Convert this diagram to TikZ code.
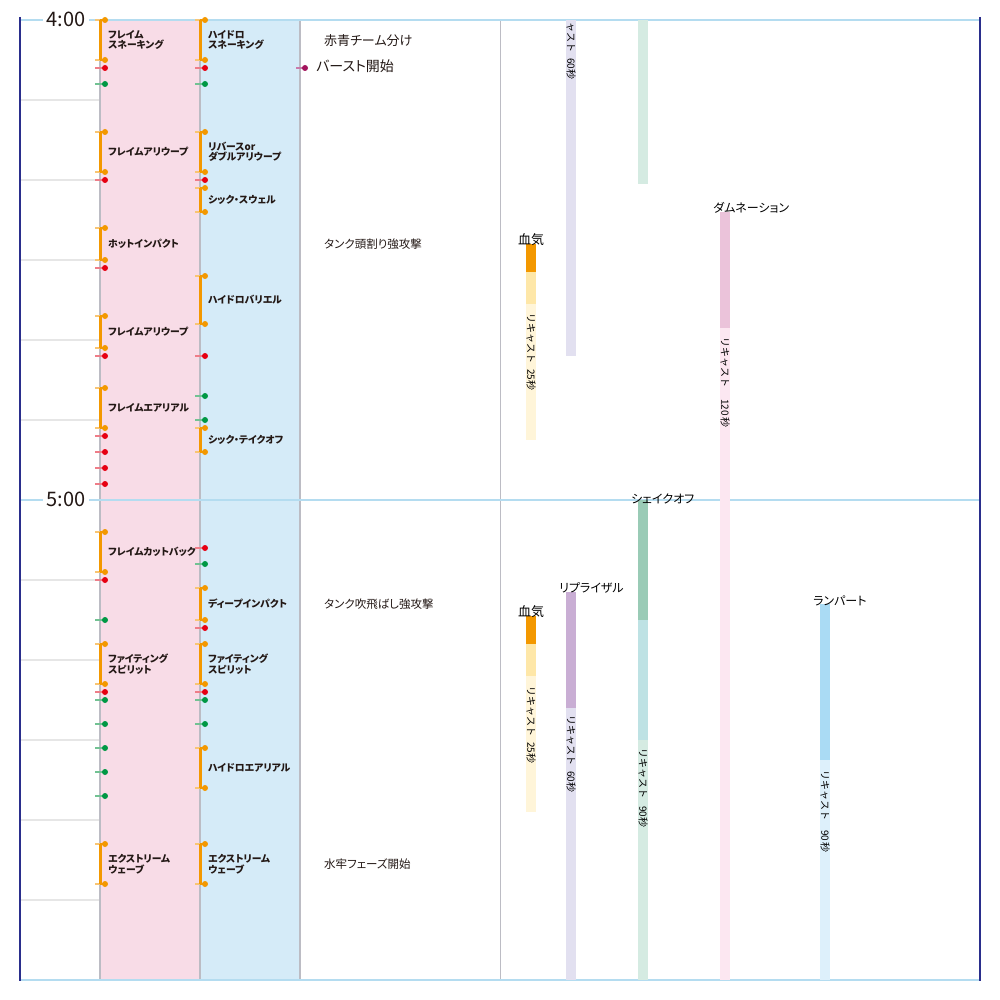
\documentclass[tikz,border=0pt]{standalone}
\usepackage{fontspec}
\usepackage{tikz}
\newfontfamily\jp[RawFeature=+palt]{Noto Sans CJK JP}
\newfontfamily\jpfull{Noto Sans CJK JP}
\definecolor{ink}{HTML}{231815}
\definecolor{navy}{HTML}{2A2E8C}
\definecolor{hourblue}{HTML}{B4DCF0}
\definecolor{gridgray}{HTML}{E6E6E6}
\definecolor{colgray}{HTML}{BCBCC4}
\definecolor{pinkcol}{HTML}{F8DCE7}
\definecolor{bluecol}{HTML}{D5EBF8}
\definecolor{skillorange}{HTML}{F39800}
\definecolor{tickorange}{HTML}{F8C574}
\definecolor{dotred}{HTML}{E60012}
\definecolor{tickred}{HTML}{EE7D88}
\definecolor{dotgreen}{HTML}{009844}
\definecolor{tickgreen}{HTML}{72C293}
\definecolor{dotpurple}{HTML}{A3145D}
\definecolor{tickpurple}{HTML}{C97AAA}
\definecolor{lav}{HTML}{E2E0F0}
\definecolor{pgreen}{HTML}{D5EBE2}
\definecolor{lorg}{HTML}{FEE7A8}
\definecolor{pyel}{HTML}{FFF5D9}
\definecolor{purp}{HTML}{C9AED4}
\definecolor{sgreen}{HTML}{9ACBB6}
\definecolor{teal}{HTML}{BEE2E4}
\definecolor{dpink}{HTML}{EBC3DA}
\definecolor{ppink}{HTML}{FCE7F1}
\definecolor{rblue}{HTML}{AADBF4}
\definecolor{pblue}{HTML}{DDF0FB}

\begin{document}
\begin{tikzpicture}[x=1pt, y=-1pt,
	gridline/.style={draw=gridgray, line width=2pt},
	colline/.style={draw=colgray, line width=2pt},
	hourline/.style={draw=hourblue, line width=2pt},
	edgeline/.style={draw=navy, line width=2.8pt},
	hourlabel/.style={fill=white, inner xsep=4pt, inner ysep=1pt, text=ink, font=\jp\fontsize{20}{20}\selectfont},
	skillbar/.style={draw=skillorange, line width=3pt},
	skilltxt/.style={anchor=west, align=left, inner sep=0pt, text=ink, font=\jp\fontsize{9.8}{10.5}\selectfont\bfseries},
	notetxt/.style={anchor=west, inner sep=0pt, text=ink, font=\jp\fontsize{11.5}{11.5}\selectfont},
	bigtxt/.style={anchor=west, inner sep=0pt, text=ink, font=\jp\fontsize{13}{13}\selectfont},
	buffname/.style={anchor=west, inner sep=0pt, text=black, font=\jp\fontsize{12}{12}\selectfont},
	recast/.style={rotate=-90, anchor=west, inner sep=0pt, text=black, font=\jpfull\fontsize{10}{10}\selectfont},
	]
	\useasboundingbox (0,0) rectangle (1000,1000);
	\fill[pinkcol] (100,20) rectangle (200,980);
	\fill[bluecol] (200,20) rectangle (300,980);
	\foreach \y in {100,180,260,340,420,580,660,740,820,900}
	\draw[gridline] (20,\y) -- (100,\y);
	\foreach \x in {100,200,300}
	\draw[colline] (\x,20) -- (\x,980);
	\draw[draw=colgray, line width=1pt] (500,20) -- (500,980);
	\draw[hourline] (20,20) -- (980,20);
	\draw[hourline] (20,500) -- (980,500);
	\draw[hourline] (20,980) -- (980,980);
	\draw[edgeline] (20,17) -- (20,981);
	\draw[edgeline] (980,17) -- (980,981);
	\node[hourlabel] (h4) at (66,19) {4:00};
	\node[hourlabel] (h5) at (66,499) {5:00};
	% skills
	\foreach \x/\ya/\yb/\nm/\txt in {
		100/20/60/fsnake/{フレイム\\スネーキング},
		100/132/172/falley1/{フレイムアリウープ},
		100/228/260/hotimp/{ホットインパクト},
		100/316/348/falley2/{フレイムアリウープ},
		100/388/428/faerial/{フレイムエアリアル},
		100/532/572/fcut/{フレイムカットバック},
		100/644/684/fspirit/{ファイティング\\スピリット},
		100/844/884/fwave/{エクストリーム\\ウェーブ},
		200/20/60/hsnake/{ハイドロ\\スネーキング},
		200/132/172/halley/{リバースor\\ダブルアリウープ},
		200/188/212/swell/{シック・スウェル},
		200/276/324/hbarrier/{ハイドロバリエル},
		200/428/452/takeoff/{シック・テイクオフ},
		200/588/620/deepimp/{ディープインパクト},
		200/644/684/hspirit/{ファイティング\\スピリット},
		200/748/788/haerial/{ハイドロエアリアル},
		200/844/884/hwave/{エクストリーム\\ウェーブ}}{
		\draw[draw=tickorange, line width=2pt] (\x-5,\ya) -- (\x+1,\ya) (\x-5,\yb) -- (\x+1,\yb);
		\draw[draw=skillorange, line width=2pt] (\x,\ya) -- (\x+5,\ya) (\x,\yb) -- (\x+5,\yb);
		\draw[skillbar] (\x,\ya) -- (\x,\yb);
		\fill[skillorange] (\x+5,\ya) circle[radius=3pt] (\x+5,\yb) circle[radius=3pt];
		\node[skilltxt] (\nm) at (\x+8,{(\ya+\yb)/2}) {\txt};
	}
	\foreach \x/\y in {100/68,100/180,100/268,100/356,100/436,100/452,100/468,100/484,100/580,100/692,
		200/68,200/180,200/356,200/548,200/628,200/692}{
		\draw[draw=tickred, line width=2pt] (\x-5,\y) -- (\x+3,\y);
		\fill[dotred] (\x+5,\y) circle[radius=3pt];
	}
	\foreach \x/\y in {100/84,100/620,100/700,100/724,100/748,100/772,100/796,
		200/84,200/396,200/420,200/564,200/700,200/724}{
		\draw[draw=tickgreen, line width=2pt] (\x-5,\y) -- (\x+3,\y);
		\fill[dotgreen] (\x+5,\y) circle[radius=3pt];
	}
	\draw[draw=tickpurple, line width=2pt] (296,68) -- (303,68);
	\fill[dotpurple] (305,68) circle[radius=3pt];
	% notes
	\node[bigtxt] (split) at (324,41) {赤青チーム分け};
	\node[bigtxt, font=\jp\fontsize{14}{14}\selectfont] (burst) at (316,66) {バースト開始};
	\node[notetxt] (tank1) at (324,244) {タンク頭割り強攻撃};
	\node[notetxt] (tank2) at (324,604) {タンク吹飛ばし強攻撃};
	\node[notetxt] (water) at (324,864) {水牢フェーズ開始};
	% buffs
	\foreach \x/\ya/\yb/\c in {566/20/356/lav, 638/20/184/pgreen,
		526/244/272/skillorange, 526/272/304/lorg, 526/304/440/pyel,
		526/616/644/skillorange, 526/644/676/lorg, 526/676/812/pyel,
		566/592/708/purp, 566/708/980/lav,
		638/500/620/sgreen, 638/620/740/teal, 638/740/980/pgreen,
		720/212/328/dpink, 720/328/980/ppink,
		820/604/760/rblue, 820/760/980/pblue}
	\fill[\c] (\x,\ya) rectangle (\x+10,\yb);
	\node[bigtxt, text=black] (ketsu1) at (518,240) {血気};
	\node[bigtxt, text=black] (ketsu2) at (518,612) {血気};
	\node[buffname] (repr) at (559,588) {リプライザル};
	\node[buffname] (shake) at (631,499) {シェイクオフ};
	\node[buffname] (damn) at (713,208) {ダムネーション};
	\node[buffname] (ramp) at (813,601) {ランパート};
	\node[recast] (rc1) at (571,22) {ャスト\hspace{6pt}60秒};
	\node[recast] (rc2) at (531,313) {リキャスト\hspace{6pt}25秒};
	\node[recast] (rc3) at (531,686) {リキャスト\hspace{6pt}25秒};
	\node[recast] (rc4) at (571,715) {リキャスト\hspace{6pt}60秒};
	\node[recast] (rc5) at (643,748) {リキャスト\hspace{8pt}90秒};
	\node[recast] (rc6) at (725,337) {リキャスト\hspace{12pt}120\,秒};
	\node[recast] (rc7) at (825,770) {リキャスト\hspace{10pt}90\,秒};
\end{tikzpicture}
\end{document}
